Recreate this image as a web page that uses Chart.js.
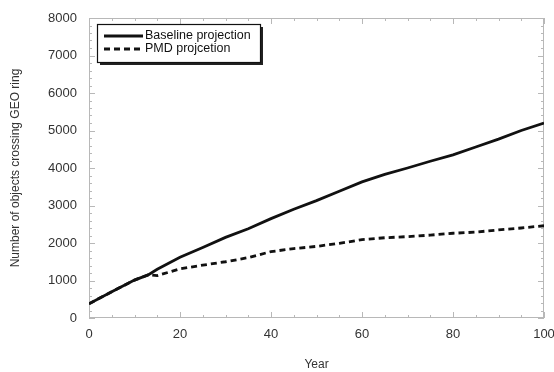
<!DOCTYPE html>
<html>
<head>
<meta charset="utf-8">
<script src="https://cdn.jsdelivr.net/npm/chart.js@4/dist/chart.umd.min.js"></script>
<style>
html,body{margin:0;padding:0;background:#fff;}
#wrap{width:554px;height:372px;position:relative;}
</style>
</head>
<body>
<div id="wrap"><canvas id="c" width="554" height="372"></canvas></div>
<script>
const years = [0, 5, 10, 13, 15, 20, 25, 30, 35, 40, 45, 50, 55, 60, 65, 70, 75, 80, 85, 90, 95, 100];
const baseline = [380, 700, 1010, 1150, 1300, 1620, 1880, 2150, 2380, 2650, 2900, 3130, 3380, 3630, 3830, 4000, 4180, 4350, 4560, 4770, 5000, 5200];
const pmd = [380, 700, 1010, 1150, 1130, 1310, 1410, 1500, 1610, 1770, 1850, 1910, 1990, 2090, 2140, 2170, 2210, 2260, 2290, 2350, 2400, 2460];
const seriesNames = ['Baseline projection', 'PMD projcetion'];
const xTicks = [0, 20, 40, 60, 80, 100];
const yTicks = [0, 1000, 2000, 3000, 4000, 5000, 6000, 7000, 8000];

const FONT = 'Liberation Sans, Arial, sans-serif';

const frame = {
  id: 'frame',
  beforeDatasetsDraw(chart) {
    const {ctx, chartArea: a, scales} = chart;
    const xs = scales.x, ys = scales.y;
    ctx.save();
    ctx.strokeStyle = '#b8b8b8';
    ctx.lineWidth = 1;
    ctx.strokeRect(a.left + 0.5, a.top + 0.5, a.right - a.left - 1, a.bottom - a.top - 1);
    ctx.beginPath();
    for (let v = 0; v <= 100; v += 5) {
      const px = Math.round(xs.getPixelForValue(v)) + 0.5;
      const len = v % 20 === 0 ? 6 : 3;
      ctx.moveTo(px, a.bottom); ctx.lineTo(px, a.bottom - len);
      ctx.moveTo(px, a.top); ctx.lineTo(px, a.top + len);
    }
    for (let v = 0; v <= 8000; v += 200) {
      const py = Math.round(ys.getPixelForValue(v)) + 0.5;
      const len = v % 1000 === 0 ? 6 : 3;
      ctx.moveTo(a.left, py); ctx.lineTo(a.left + len, py);
      ctx.moveTo(a.right, py); ctx.lineTo(a.right - len, py);
    }
    ctx.stroke();
    ctx.restore();
  },
  afterDraw(chart) {
    const {ctx, chartArea: a} = chart;
    const bx = a.left + 8, by = a.top + 6, bw = 163, bh = 38;
    ctx.save();
    ctx.fillStyle = '#222';
    ctx.fillRect(bx + 3, by + 3, bw, bh);
    ctx.fillStyle = '#fff';
    ctx.fillRect(bx, by, bw, bh);
    ctx.strokeStyle = '#111';
    ctx.lineWidth = 1.2;
    ctx.strokeRect(bx + 0.5, by + 0.5, bw, bh);
    chart.data.datasets.forEach((ds, i) => {
      const ly = by + 12 + i * 13;
      ctx.beginPath();
      ctx.strokeStyle = ds.borderColor;
      ctx.lineWidth = ds.borderWidth;
      ctx.setLineDash(ds.borderDash || []);
      ctx.moveTo(bx + 7, ly);
      ctx.lineTo(bx + 46, ly);
      ctx.stroke();
      ctx.setLineDash([]);
      ctx.fillStyle = '#111';
      ctx.font = '12.5px ' + FONT;
      ctx.textBaseline = 'middle';
      ctx.fillText(ds.label, bx + 48, ly);
    });
    ctx.restore();
  }
};

new Chart(document.getElementById('c'), {
  type: 'line',
  data: {
    datasets: [
      {
        label: seriesNames[0],
        data: years.map((y, i) => ({x: y, y: baseline[i]})),
        borderColor: '#111', borderWidth: 2.8, pointRadius: 0, tension: 0, fill: false
      },
      {
        label: seriesNames[1],
        data: years.map((y, i) => ({x: y, y: pmd[i]})),
        borderColor: '#111', borderWidth: 2.8, borderDash: [6, 4], pointRadius: 0, tension: 0, fill: false
      }
    ]
  },
  options: {
    responsive: false,
    animation: false,
    layout: {padding: {top: 18, right: 10, bottom: 0, left: 0}},
    plugins: {legend: {display: false}, tooltip: {enabled: false}},
    scales: {
      x: {
        type: 'linear', min: 0, max: 100,
        afterBuildTicks: s => { s.ticks = xTicks.map(v => ({value: v})); },
        afterFit: s => { s.height = 54; s.paddingLeft = 0; s.paddingRight = 0; },
        grid: {display: false, drawTicks: false},
        border: {display: false},
        ticks: {padding: 9, color: '#333', font: {family: FONT, size: 13}, maxRotation: 0, callback: v => String(v)},
        title: {display: true, text: 'Year', color: '#333', font: {family: FONT, size: 12}, padding: {top: 12, bottom: 0}}
      },
      y: {
        type: 'linear', min: 0, max: 8000,
        afterBuildTicks: s => { s.ticks = yTicks.map(v => ({value: v})); },
        afterFit: s => { s.width = 89; s.paddingTop = 0; s.paddingBottom = 0; },
        grid: {display: false, drawTicks: false},
        border: {display: false},
        ticks: {padding: 12, color: '#333', font: {family: FONT, size: 13}, callback: v => String(v)},
        title: {display: true, text: 'Number of objects crossing GEO ring', color: '#333', font: {family: FONT, size: 12}, padding: {top: 8, bottom: 0}}
      }
    }
  },
  plugins: [frame]
});
</script>
</body>
</html>
